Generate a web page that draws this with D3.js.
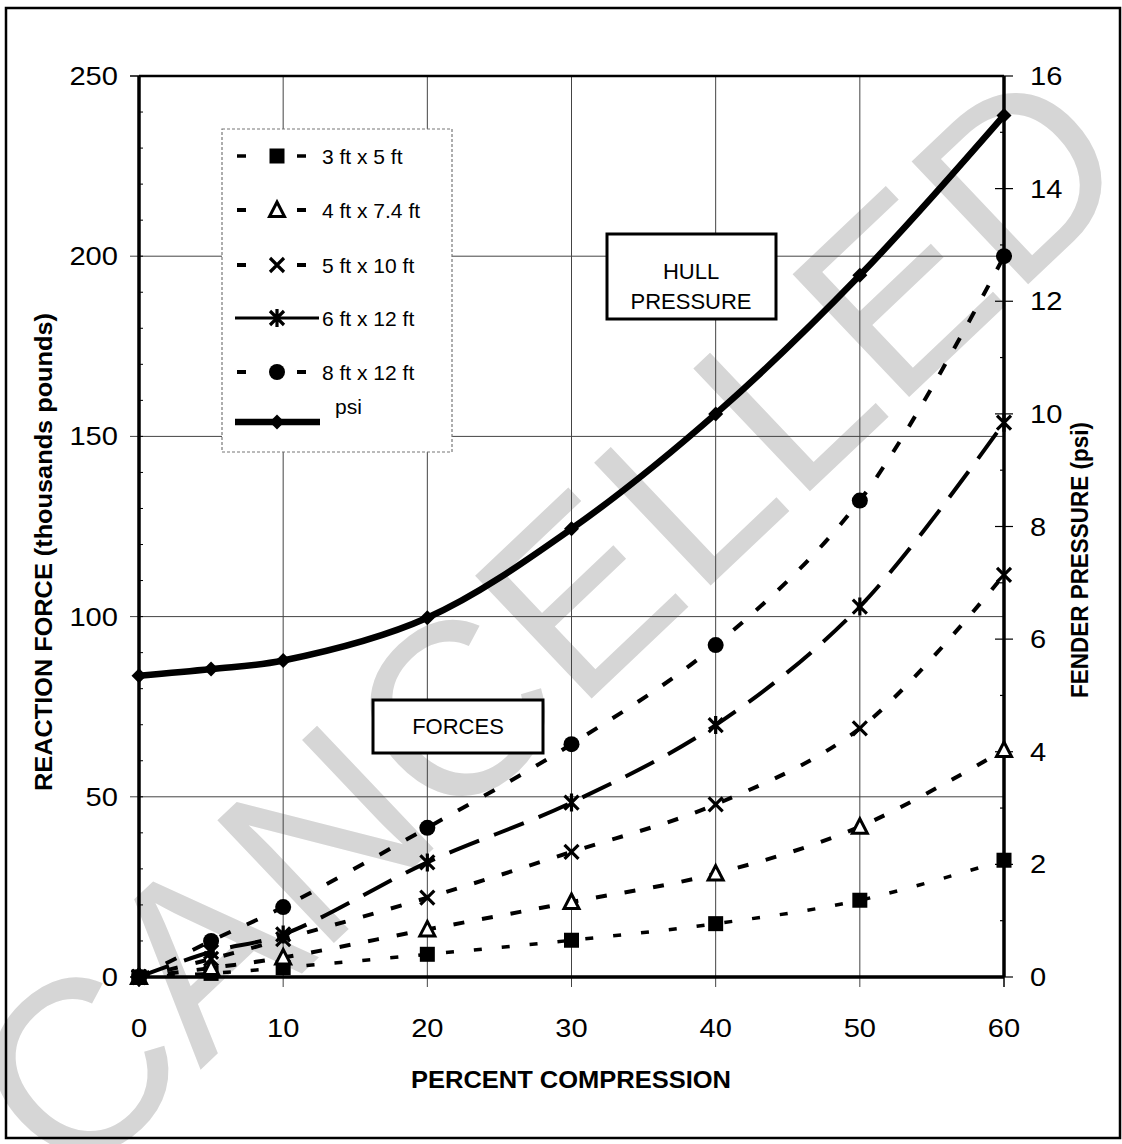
<!DOCTYPE html>
<html><head><meta charset="utf-8">
<script src="https://cdn.jsdelivr.net/npm/d3@7"></script>
<style>html,body{margin:0;padding:0;background:#fff;}svg{display:block;font-family:Arial,"Liberation Sans",sans-serif;}</style>
</head><body>
<script>
// ---- data ----
const compression = [0, 5, 10, 20, 30, 40, 50, 60];
const f3x5   = [0, 1.0, 2.6, 6.3, 10.2, 14.8, 21.3, 32.4];
const f4x7   = [0, 2.5, 5.4, 13.2, 20.8, 28.7, 41.7, 63.0];
const f5x10  = [0, 5.0, 10.5, 22.0, 34.7, 47.9, 69.0, 111.6];
const f6x12  = [0, 7.0, 11.8, 31.8, 48.4, 69.9, 102.8, 153.8];
const f8x12  = [0, 10.0, 19.4, 41.4, 64.6, 92.1, 132.2, 200.0];
const psiVals = [5.35, 5.47, 5.62, 6.38, 7.96, 10.0, 12.46, 15.3];
const seriesNames = ["3 ft x 5 ft", "4 ft x 7.4 ft", "5 ft x 10 ft", "6 ft x 12 ft", "8 ft x 12 ft", "psi"];
const xTicks = [0, 10, 20, 30, 40, 50, 60];
const yLeftTicks = [0, 50, 100, 150, 200, 250];
const yRightTicks = [0, 2, 4, 6, 8, 10, 12, 14, 16];

const W = 1122, H = 1144;
const svg = d3.select("body").append("svg").attr("width", W).attr("height", H);
svg.append("rect").attr("width", W).attr("height", H).attr("fill", "#fff");

const x = d3.scaleLinear().domain([0, 60]).range([139, 1004]);
const yL = d3.scaleLinear().domain([0, 250]).range([977, 76]);
const yR = d3.scaleLinear().domain([0, 16]).range([977, 76]);

// watermark
svg.append("text").attr("transform", "translate(548,622) rotate(-43.5)")
  .attr("text-anchor", "middle").attr("dominant-baseline", "central")
  .attr("font-size", 246).attr("fill", "#d6d6d6").attr("font-family", "Liberation Sans, Arial")
  .text("CANCELLED");

// outer frame
svg.append("rect").attr("x", 6).attr("y", 8).attr("width", 1114).attr("height", 1130)
  .attr("fill", "none").attr("stroke", "#000").attr("stroke-width", 2.5);

// grid
const g = svg.append("g");
g.selectAll(".vg").data(xTicks.slice(1, -1)).join("line")
  .attr("x1", d => x(d)).attr("x2", d => x(d)).attr("y1", yL(250)).attr("y2", yL(0) + 10)
  .attr("stroke", "#444").attr("stroke-width", 1);
g.selectAll(".hg").data(yLeftTicks.slice(1, -1)).join("line")
  .attr("x1", x(0) - 9).attr("x2", x(60)).attr("y1", d => yL(d)).attr("y2", d => yL(d))
  .attr("stroke", "#444").attr("stroke-width", 1);
g.selectAll(".bt").data([0, 60]).join("line")
  .attr("x1", d => x(d)).attr("x2", d => x(d)).attr("y1", yL(0)).attr("y2", yL(0) + 10)
  .attr("stroke", "#000").attr("stroke-width", 1.5);
g.selectAll(".lt").data([0, 250]).join("line")
  .attr("x1", x(0) - 9).attr("x2", x(0)).attr("y1", d => yL(d)).attr("y2", d => yL(d))
  .attr("stroke", "#000").attr("stroke-width", 1.5);
g.selectAll(".rt").data(d3.range(0, 16.01, 1)).join("line")
  .attr("x1", d => x(60) - (d % 2 === 0 ? 9 : 4)).attr("x2", d => x(60) + (d % 2 === 0 ? 9 : 0))
  .attr("y1", d => yR(d)).attr("y2", d => yR(d))
  .attr("stroke", "#000").attr("stroke-width", 1.2);
g.selectAll(".lm").data(d3.range(10, 250, 10)).join("line")
  .attr("x1", x(0)).attr("x2", x(0) + 4).attr("y1", d => yL(d)).attr("y2", d => yL(d))
  .attr("stroke", "#000").attr("stroke-width", 1);

// plot borders
svg.append("line").attr("x1", x(0)).attr("x2", x(60)).attr("y1", yL(250)).attr("y2", yL(250)).attr("stroke", "#000").attr("stroke-width", 2.5);
svg.append("line").attr("x1", x(0)).attr("x2", x(60)).attr("y1", yL(0)).attr("y2", yL(0)).attr("stroke", "#000").attr("stroke-width", 3.5);
svg.append("line").attr("x1", x(0)).attr("x2", x(0)).attr("y1", yL(250)).attr("y2", yL(0)).attr("stroke", "#000").attr("stroke-width", 3.5);
svg.append("line").attr("x1", x(60)).attr("x2", x(60)).attr("y1", yL(250)).attr("y2", yL(0)).attr("stroke", "#000").attr("stroke-width", 3.5);

// tick labels
const lab = svg.append("g").attr("font-size", 26).attr("fill", "#000");
lab.selectAll(".xl").data(xTicks).join("text")
  .attr("transform", d => `translate(${x(d)},1037) scale(1.12,1)`).attr("text-anchor", "middle").text(d => d);
lab.selectAll(".yl").data(yLeftTicks).join("text")
  .attr("transform", d => `translate(118,${yL(d) + 9}) scale(1.12,1)`).attr("text-anchor", "end").text(d => d);
lab.selectAll(".yr").data(yRightTicks).join("text")
  .attr("transform", d => `translate(1030,${yR(d) + 9}) scale(1.12,1)`).attr("text-anchor", "start").text(d => d);

// axis titles
svg.append("text").attr("x", 571).attr("y", 1088).attr("text-anchor", "middle")
  .attr("font-size", 23).attr("font-weight", "bold").attr("textLength", 320).attr("lengthAdjust", "spacingAndGlyphs")
  .text("PERCENT COMPRESSION");
svg.append("text").attr("transform", "translate(52,552) rotate(-90)").attr("text-anchor", "middle")
  .attr("font-size", 23).attr("font-weight", "bold").attr("textLength", 478).attr("lengthAdjust", "spacingAndGlyphs")
  .text("REACTION FORCE (thousands pounds)");
svg.append("text").attr("transform", "translate(1088,560) rotate(-90)").attr("text-anchor", "middle")
  .attr("font-size", 23).attr("font-weight", "bold").attr("textLength", 276).attr("lengthAdjust", "spacingAndGlyphs")
  .text("FENDER PRESSURE (psi)");

// series
const curve = d3.curveCatmullRom.alpha(0.5);
const lineL = d3.line().x(d => x(d[0])).y(d => yL(d[1])).curve(curve);
const lineR = d3.line().x(d => x(d[0])).y(d => yR(d[1])).curve(curve);
const zipped = arr => compression.map((c, i) => [c, arr[i]]);

const series = [
  { vals: f3x5, dash: "8,20", w: 3.5, marker: "square" },
  { vals: f4x7, dash: "11,18", w: 4, marker: "triangle" },
  { vals: f5x10, dash: "11,18", w: 4, marker: "x" },
  { vals: f6x12, dash: "32,16", w: 4, marker: "star" },
  { vals: f8x12, dash: "12,18", w: 4, marker: "circle" },
];

function drawMarker(sel, type, cx, cy) {
  const gg = sel.append("g").attr("transform", `translate(${cx},${cy})`);
  if (type === "square") gg.append("rect").attr("x", -7.5).attr("y", -7.5).attr("width", 15).attr("height", 15).attr("fill", "#000");
  else if (type === "triangle") gg.append("path").attr("d", "M0,-8 L7.5,6.5 L-7.5,6.5 Z").attr("fill", "#fff").attr("stroke", "#000").attr("stroke-width", 3).attr("stroke-linejoin", "miter");
  else if (type === "x") gg.append("path").attr("d", "M-7,-7L7,7M-7,7L7,-7").attr("stroke", "#000").attr("stroke-width", 3.2);
  else if (type === "star") gg.append("path").attr("d", "M-7,-7L7,7M-7,7L7,-7M0,-9L0,9").attr("stroke", "#000").attr("stroke-width", 3.2);
  else if (type === "circle") gg.append("circle").attr("r", 8).attr("fill", "#000");
  else if (type === "diamond") gg.append("path").attr("d", "M0,-7.5L7.5,0L0,7.5L-7.5,0Z").attr("fill", "#000");
}

const plot = svg.append("g");
series.forEach(s => {
  plot.append("path").attr("d", lineL(zipped(s.vals))).attr("fill", "none").attr("stroke", "#000")
    .attr("stroke-width", s.w).attr("stroke-dasharray", s.dash);
});
plot.append("path").attr("d", lineR(zipped(psiVals))).attr("fill", "none").attr("stroke", "#000").attr("stroke-width", 6.5);
series.forEach(s => {
  compression.forEach((c, i) => drawMarker(plot, s.marker, x(c), yL(s.vals[i])));
});
compression.forEach((c, i) => drawMarker(plot, "diamond", x(c), yR(psiVals[i])));

// legend
const leg = svg.append("g");
leg.append("rect").attr("x", 222).attr("y", 129).attr("width", 230).attr("height", 323)
  .attr("fill", "#fff").attr("stroke", "#777").attr("stroke-width", 1.2).attr("stroke-dasharray", "3,2");
const legY = [156, 210, 265, 318, 372];
series.forEach((s, i) => {
  const yy = legY[i];
  if (s.marker === "star") {
    leg.append("line").attr("x1", 235).attr("x2", 319).attr("y1", yy).attr("y2", yy).attr("stroke", "#000").attr("stroke-width", 3);
  } else {
    leg.append("line").attr("x1", 237).attr("x2", 246).attr("y1", yy).attr("y2", yy).attr("stroke", "#000").attr("stroke-width", s.w);
    leg.append("line").attr("x1", 297).attr("x2", 306).attr("y1", yy).attr("y2", yy).attr("stroke", "#000").attr("stroke-width", s.w);
  }
  drawMarker(leg, s.marker, 277, yy);
  leg.append("text").attr("x", 322).attr("y", yy + 8).attr("font-size", 21).text(seriesNames[i]);
});
leg.append("line").attr("x1", 235).attr("x2", 320).attr("y1", 422).attr("y2", 422).attr("stroke", "#000").attr("stroke-width", 6.5);
drawMarker(leg, "diamond", 277, 422);
leg.append("text").attr("x", 335).attr("y", 414).attr("font-size", 21).text(seriesNames[5]);

// annotation boxes
svg.append("rect").attr("x", 607).attr("y", 234).attr("width", 169).attr("height", 85)
  .attr("fill", "#fff").attr("stroke", "#000").attr("stroke-width", 3);
svg.append("text").attr("x", 691).attr("y", 279).attr("text-anchor", "middle").attr("font-size", 22).text("HULL");
svg.append("text").attr("x", 691).attr("y", 309).attr("text-anchor", "middle").attr("font-size", 22).text("PRESSURE");
svg.append("rect").attr("x", 373).attr("y", 700).attr("width", 170).attr("height", 53)
  .attr("fill", "#fff").attr("stroke", "#000").attr("stroke-width", 3);
svg.append("text").attr("x", 458).attr("y", 734).attr("text-anchor", "middle").attr("font-size", 22).text("FORCES");
</script>
</body></html>
